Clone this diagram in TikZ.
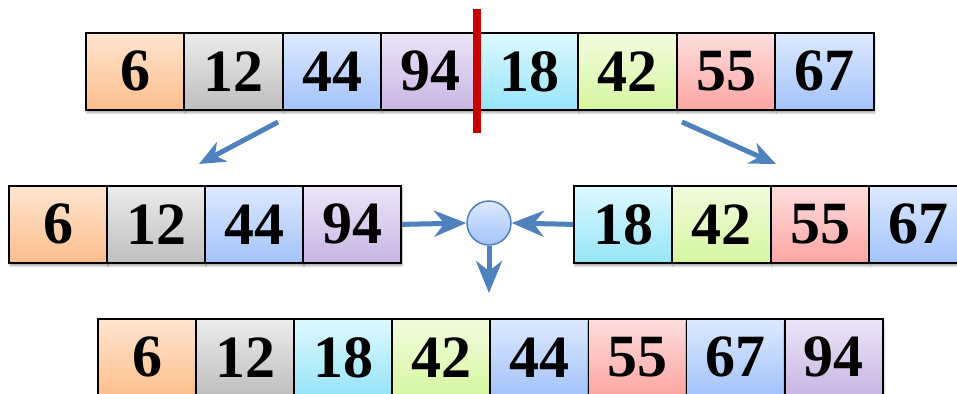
\documentclass[tikz,border=0pt]{standalone}
\usepackage{fontspec}
\setmainfont{Liberation Serif}
\usetikzlibrary{arrows.meta,shadows.blur}
\definecolor{orT}{RGB}{255,229,208}\definecolor{orB}{RGB}{252,190,140}
\definecolor{grT}{RGB}{236,236,236}\definecolor{grB}{RGB}{190,190,190}
\definecolor{blT}{RGB}{222,233,255}\definecolor{blB}{RGB}{162,195,250}
\definecolor{puT}{RGB}{236,230,247}\definecolor{puB}{RGB}{200,180,228}
\definecolor{cyT}{RGB}{222,249,255}\definecolor{cyB}{RGB}{150,228,248}
\definecolor{gnT}{RGB}{242,252,222}\definecolor{gnB}{RGB}{214,246,160}
\definecolor{rdT}{RGB}{255,222,222}\definecolor{rdB}{RGB}{252,165,162}
\definecolor{arrblue}{RGB}{79,129,189}
\definecolor{splitred}{RGB}{200,0,0}
\tikzset{
  cell/.style={draw=black, line width=1.8pt, anchor=north west, inner sep=0pt,
    minimum height=77pt, minimum width=98.3pt,
    font=\fontsize{60}{60}\selectfont\bfseries,
    blur shadow={shadow xshift=1pt, shadow yshift=-3pt, shadow blur steps=6, shadow opacity=35}},
  cor/.style={top color=orT, bottom color=orB},
  cgr/.style={top color=grT, bottom color=grB},
  cbl/.style={top color=blT, bottom color=blB},
  cpu/.style={top color=puT, bottom color=puB},
  ccy/.style={top color=cyT, bottom color=cyB},
  cgn/.style={top color=gnT, bottom color=gnB},
  crd/.style={top color=rdT, bottom color=rdB},
  bigarr/.style={draw=arrblue, line width=5pt, -{Stealth[length=32pt,width=26pt,inset=10pt]}},
  diagarr/.style={draw=arrblue, line width=5pt, -{Stealth[length=26pt,width=22pt,inset=8pt]}},
}
\begin{document}
\begin{tikzpicture}[x=1pt,y=-1pt]
\useasboundingbox (0,0) rectangle (957,393);
% top row
\node[cell,cor] (t1) at (85,32) {6};
\node[cell,cgr] (t2) at (183.5,32) {12};
\node[cell,cbl] (t3) at (282,32) {44};
\node[cell,cpu] (t4) at (380.5,32) {94};
\node[cell,ccy] (t5) at (479,32) {18};
\node[cell,cgn] (t6) at (577.5,32) {42};
\node[cell,crd] (t7) at (676,32) {55};
\node[cell,cbl] (t8) at (774.5,32) {67};
% split line
\coordinate (sa) at (477,9);
\coordinate (sb) at (477,133);
\draw[splitred, line width=8pt] (sa) -- (sb);
% diagonal arrows
\coordinate (la) at (278,122); \coordinate (lb) at (199,164);
\coordinate (ra) at (682,122); \coordinate (rb) at (776,164);
\draw[diagarr] (la) -- (lb);
\draw[diagarr] (ra) -- (rb);
% middle rows
\node[cell,cor] (l1) at (8,185) {6};
\node[cell,cgr] (l2) at (106,185) {12};
\node[cell,cbl] (l3) at (204,185) {44};
\node[cell,cpu] (l4) at (302,185) {94};
\node[cell,ccy] (r1) at (573,185) {18};
\node[cell,cgn] (r2) at (671.5,185) {42};
\node[cell,crd] (r3) at (770,185) {55};
\node[cell,cbl] (r4) at (868.5,185) {67};
% merge circle
\node[circle, draw=arrblue, line width=1.5pt, minimum size=44pt, inner sep=0pt,
      top color=blT, bottom color=blB] (m) at (489,223) {};
\draw[bigarr] (l4.east) -- (m.west);
\draw[bigarr] (r1.west) -- (m.east);
\coordinate (md) at (489,293);
\draw[bigarr] (m.south) -- (md);
% bottom row
\node[cell,cor] (b1) at (97,318) {6};
\node[cell,cgr] (b2) at (195.1,318) {12};
\node[cell,ccy] (b3) at (293.2,318) {18};
\node[cell,cgn] (b4) at (391.3,318) {42};
\node[cell,cbl] (b5) at (489.4,318) {44};
\node[cell,crd] (b6) at (587.5,318) {55};
\node[cell,cbl] (b7) at (685.6,318) {67};
\node[cell,cpu] (b8) at (783.7,318) {94};
\end{tikzpicture}
\end{document}
